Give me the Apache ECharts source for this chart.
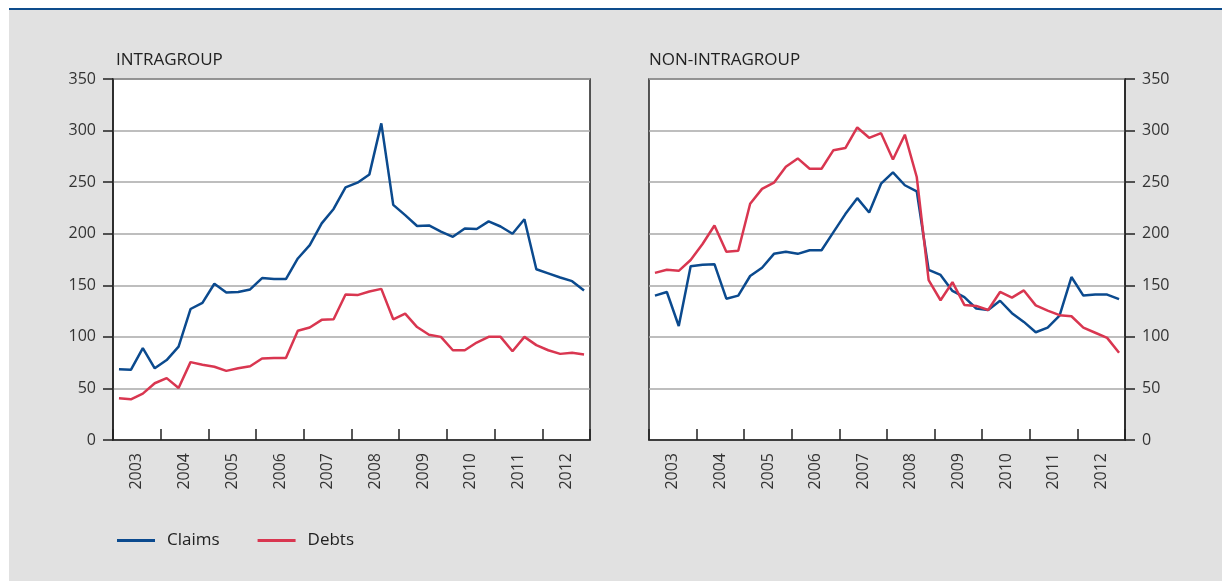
<!DOCTYPE html>
<html>
<head>
<meta charset="utf-8">
<script src="https://cdn.jsdelivr.net/npm/echarts@6/dist/echarts.min.js"></script>
<style>
  html, body { margin: 0; padding: 0; background: #ffffff; }
  #chart { width: 1222px; height: 581px; }
</style>
</head>
<body>
<div id="chart"></div>
<script>
  // years shown on the x axis, data is quarterly (4 per year)
  var years = ['2003', '2004', '2005', '2006', '2007', '2008', '2009', '2010', '2011', '2012'];
  var quarters = [
    '2003Q1', '2003Q2', '2003Q3', '2003Q4', '2004Q1', '2004Q2', '2004Q3', '2004Q4',
    '2005Q1', '2005Q2', '2005Q3', '2005Q4', '2006Q1', '2006Q2', '2006Q3', '2006Q4',
    '2007Q1', '2007Q2', '2007Q3', '2007Q4', '2008Q1', '2008Q2', '2008Q3', '2008Q4',
    '2009Q1', '2009Q2', '2009Q3', '2009Q4', '2010Q1', '2010Q2', '2010Q3', '2010Q4',
    '2011Q1', '2011Q2', '2011Q3', '2011Q4', '2012Q1', '2012Q2', '2012Q3', '2012Q4'
  ];

  // INTRAGROUP
  var intraClaims = [
    68.5, 68, 89, 69.5, 77.5, 90.5, 127, 133,
    151.5, 143, 143.5, 146, 157, 156, 156, 176,
    189, 210, 224, 245, 249.5, 257.5, 307, 228,
    218, 207.5, 208, 202, 197, 205, 204.5, 212,
    207, 200, 214, 165.5, 161.5, 157.5, 154, 145
  ];
  var intraDebts = [
    40.5, 39.5, 45, 55, 60, 50.5, 75.5, 73,
    71, 67, 69.5, 71.5, 79, 79.5, 79.5, 106,
    109, 116.5, 117, 141, 140.5, 144, 146.5, 117,
    122.5, 109.5, 102, 100, 87, 87, 94.5, 100,
    100, 86, 100, 92, 87, 83.5, 84.5, 83
  ];

  // NON-INTRAGROUP
  var nonClaims = [
    140, 143.5, 110.5, 168.5, 170, 170.5, 137, 140,
    159, 167, 180.5, 182.5, 180.5, 184, 184, 201.5,
    219, 234.5, 220.5, 248.5, 259.5, 247, 241, 165,
    160, 144.5, 138.5, 127.5, 126, 135, 123, 114.5,
    104.5, 109, 120.5, 158, 140, 141, 141, 136.5
  ];
  var nonDebts = [
    162, 165, 164, 174.5, 190, 208, 182.5, 183.5,
    229, 243.5, 249.5, 265, 273, 263, 263, 281,
    283, 303, 293, 297.5, 272, 296, 255, 155,
    135.5, 153, 131, 130, 126, 143.5, 138, 145,
    130.5, 125.5, 121, 120, 109, 104, 99, 84.5
  ];

  var yMin = 0, yMax = 350, yStep = 50;

  var blue = '#0b4a8e';
  var red = '#d93650';
  var ink = '#222222';
  var font = 'Open Sans';

  var chart = echarts.init(document.getElementById('chart'));

  function yearAxis(gridIndex) {
    return {
      gridIndex: gridIndex,
      type: 'category',
      data: years,
      boundaryGap: true,
      axisLine: {show: true, lineStyle: {color: ink, width: 1.5}},
      axisTick: {show: true, inside: true, length: 11, alignWithLabel: false, interval: 0,
        lineStyle: {color: ink, width: 1.5}},
      axisLabel: {rotate: 90, margin: 13, interval: 0, fontSize: 16, fontFamily: font, color: '#333'},
      splitLine: {show: false}
    };
  }

  function quarterAxis(gridIndex) {
    return {
      gridIndex: gridIndex,
      type: 'category',
      data: quarters,
      boundaryGap: true,
      show: false
    };
  }

  function valueAxis(gridIndex, side) {
    return {
      gridIndex: gridIndex,
      type: 'value',
      position: side,
      min: yMin,
      max: yMax,
      interval: yStep,
      axisLine: {show: true, lineStyle: {color: ink, width: 1.5}},
      axisTick: {show: true, inside: false, length: 10, lineStyle: {color: ink, width: 1.5}},
      axisLabel: {margin: 17, fontSize: 16, fontFamily: font, color: '#333'},
      splitLine: {show: true, lineStyle: {color: '#a9a9a9', width: 1.5}}
    };
  }

  function line(name, data, xi, yi, color) {
    return {
      name: name,
      type: 'line',
      xAxisIndex: xi,
      yAxisIndex: yi,
      data: data,
      symbol: 'none',
      smooth: false,
      lineStyle: {color: color, width: 2.5},
      itemStyle: {color: color},
      animation: false
    };
  }

  chart.setOption({
    animation: false,
    backgroundColor: '#ffffff',
    graphic: [
      {type: 'rect', z: -10, silent: true, shape: {x: 9, y: 10, width: 1213, height: 571},
        style: {fill: '#e1e1e1'}},
      {type: 'line', z: -9, silent: true, shape: {x1: 9, y1: 9, x2: 1222, y2: 9},
        style: {stroke: '#0e4c8c', lineWidth: 2}}
    ],
    title: [
      {text: 'INTRAGROUP', left: 111, top: 47,
        textStyle: {fontSize: 17, fontWeight: 'normal', fontFamily: font, color: ink}},
      {text: 'NON-INTRAGROUP', left: 644, top: 47,
        textStyle: {fontSize: 17, fontWeight: 'normal', fontFamily: font, color: ink}}
    ],
    legend: {
      left: 112,
      top: 527,
      icon: 'rect',
      itemWidth: 38,
      itemHeight: 3,
      itemGap: 38,
      data: ['Claims', 'Debts'],
      textStyle: {fontSize: 17, fontFamily: font, color: ink, padding: [0, 0, 0, 7]}
    },
    grid: [
      {left: 113, top: 79, width: 477, height: 361, show: true, backgroundColor: '#ffffff',
        borderColor: ink, borderWidth: 1.5},
      {left: 649, top: 79, width: 476, height: 361, show: true, backgroundColor: '#ffffff',
        borderColor: ink, borderWidth: 1.5}
    ],
    xAxis: [yearAxis(0), quarterAxis(0), yearAxis(1), quarterAxis(1)],
    yAxis: [valueAxis(0, 'left'), valueAxis(1, 'right')],
    series: [
      line('Claims', intraClaims, 1, 0, blue),
      line('Debts', intraDebts, 1, 0, red),
      line('Claims', nonClaims, 3, 1, blue),
      line('Debts', nonDebts, 3, 1, red)
    ]
  });
</script>
</body>
</html>
